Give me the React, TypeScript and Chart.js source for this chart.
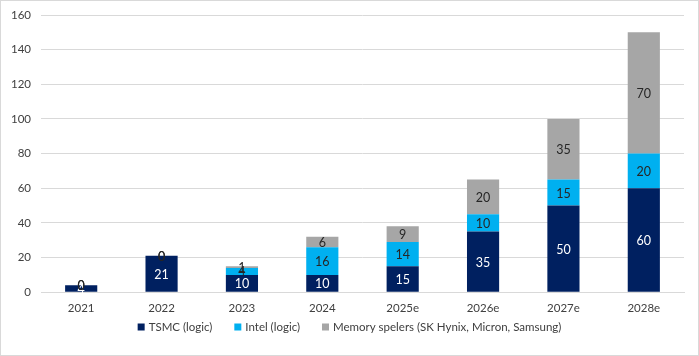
import React, { useEffect, useRef } from "react";
import { Chart, registerables } from "chart.js";

Chart.register(...registerables);

const categories = ["2021", "2022", "2023", "2024", "2025e", "2026e", "2027e", "2028e"];
const tsmc = [4, 21, 10, 10, 15, 35, 50, 60];
const intel = [0, 0, 4, 16, 14, 10, 15, 20];
const memory = [0, 0, 1, 6, 9, 20, 35, 70];
const seriesNames = ["TSMC (logic)", "Intel (logic)", "Memory spelers (SK Hynix, Micron, Samsung)"];
const seriesColors = ["#002060", "#00B0F0", "#A6A6A6"];
const FONT = "Lato, 'Liberation Sans', sans-serif";

const labelPlugin = {
  id: "barLabels",
  afterDatasetsDraw(chart: any) {
    const ctx = chart.ctx;
    ctx.save();
    ctx.font = `12.5px ${FONT}`;
    ctx.textAlign = "center";
    ctx.textBaseline = "middle";
    chart.data.datasets.forEach((ds: any, di: number) => {
      const meta = chart.getDatasetMeta(di);
      meta.data.forEach((el: any, i: number) => {
        const v = ds.data[i];
        const y = (el.y + el.base) / 2;
        ctx.fillStyle = di === 0 ? "#ffffff" : "#262626";
        ctx.fillText(String(v), el.x, y + 1);
      });
    });
    ctx.restore();
  },
};

const legendPlugin = {
  id: "customLegend",
  afterDraw(chart: any) {
    const ctx = chart.ctx;
    ctx.save();
    ctx.font = `11.5px ${FONT}`;
    ctx.textBaseline = "middle";
    const box = 7;
    const gapBoxText = 4;
    const gapItems = 22;
    const ds = chart.data.datasets;
    const widths = ds.map((d: any) => box + gapBoxText + ctx.measureText(d.label).width);
    const total = widths.reduce((a: number, b: number) => a + b, 0) + gapItems * (ds.length - 1);
    let x = (chart.width - total) / 2;
    const cy = 326;
    ds.forEach((d: any, i: number) => {
      ctx.fillStyle = d.backgroundColor;
      ctx.fillRect(x, cy - box / 2, box, box);
      ctx.fillStyle = "#404040";
      ctx.textAlign = "left";
      ctx.fillText(d.label, x + box + gapBoxText, cy + 0.5);
      x += widths[i] + gapItems;
    });
    ctx.restore();
  },
};

export default function App() {
  const ref = useRef<HTMLCanvasElement>(null);
  useEffect(() => {
    if (!ref.current) return;
    const chart = new Chart(ref.current, {
      type: "bar",
      data: {
        labels: categories,
        datasets: [
          { label: seriesNames[0], data: tsmc, backgroundColor: seriesColors[0] },
          { label: seriesNames[1], data: intel, backgroundColor: seriesColors[1] },
          { label: seriesNames[2], data: memory, backgroundColor: seriesColors[2] },
        ],
      },
      options: {
        animation: false,
        responsive: false,
        layout: { padding: { left: 0, right: 14, top: 14, bottom: 31 } },
        datasets: { bar: { categoryPercentage: 1, barPercentage: 0.4 } },
        plugins: {
          tooltip: { enabled: false },
          legend: { display: false },
        },
        scales: {
          x: {
            stacked: true,
            grid: { display: false, drawTicks: false },
            border: { color: "#d9d9d9" },
            ticks: { color: "#404040", font: { family: FONT, size: 11.5 }, padding: 9 },
          },
          y: {
            stacked: true,
            min: 0,
            max: 160,
            afterFit: (s: any) => { s.width = 40; s.paddingTop = 0; s.paddingBottom = 0; },
            grid: { color: "#d9d9d9", drawTicks: false },
            border: { display: false },
            ticks: { stepSize: 20, color: "#404040", font: { family: FONT, size: 11.5 }, padding: 10 },
          },
        },
      },
      plugins: [labelPlugin, legendPlugin],
    } as any);
    return () => chart.destroy();
  }, []);
  return (
    <div style={{ position: "fixed", left: 0, top: 0, width: 699, height: 356, boxSizing: "border-box", border: "1px solid #d9d9d9", background: "#fff" }}>
      <canvas ref={ref} width={697} height={354} />
    </div>
  );
}
